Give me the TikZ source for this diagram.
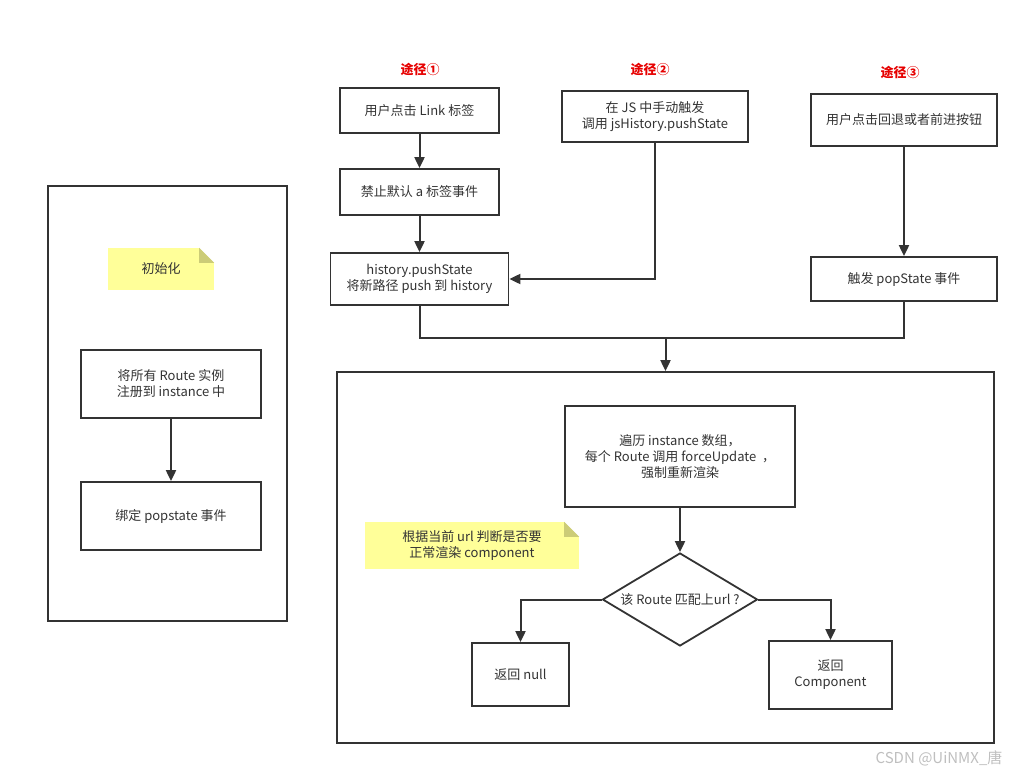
\documentclass[tikz,border=0pt]{standalone}
\usepackage{fontspec}
\setmainfont{Noto Sans CJK SC}
\usetikzlibrary{shapes.geometric, arrows.meta, positioning}
\definecolor{linegray}{RGB}{51,51,51}
\definecolor{noteyellow}{RGB}{255,255,153}
\definecolor{notefold}{RGB}{204,204,119}
\definecolor{titlered}{RGB}{230,0,0}

\begin{document}
\begin{tikzpicture}[x=1pt, y=-1pt,
    every node/.style={font=\fontsize{13}{16}\selectfont, text=linegray},
    box/.style={draw=linegray, line width=1.8pt, rectangle, align=center, inner sep=2pt},
    note/.style={fill=noteyellow, rectangle, align=center},
    title/.style={text=titlered, font=\fontsize{13}{15}\selectfont\bfseries},
    arr/.style={linegray, line width=2pt, -{Triangle[length=11pt,width=10pt]}},
    ln/.style={linegray, line width=2pt}]
                    \useasboundingbox (0,0) rectangle (1029,774);
                    % init
                    \node[box, minimum width=239, minimum height=435] (initframe) at (167.5,403.5) {};
                    \node[note, minimum width=106, minimum height=42] (initnote) at (161,269) {初始化};
                    \fill[white] (initnote.north east) -- +(-15,0) -- +(0,15) -- cycle;
                    \fill[notefold] (initnote.north east) ++(-15,0) -- +(15,15) -- +(0,15) -- cycle;
                    \node[box, minimum width=180, minimum height=68] (reg) at (171,384) {将所有 Route 实例\\注册到 instance 中};
                    \node[box, minimum width=180, minimum height=68] (bind) at (171,516) {绑定 popstate 事件};
                    \draw[arr] (reg) -- (bind);
                    % path 1
                    \node[title] (t1) at (420,69) {途径①};
                    \node[box, minimum width=159, minimum height=45] (link) at (419.5,110.5) {用户点击 Link 标签};
                    \node[box, minimum width=159, minimum height=46] (prevent) at (419.5,192) {禁止默认 a 标签事件};
                    \node[box, minimum width=178, minimum height=52] (push) at (419.5,279) {history.pushState\\将新路径 push 到 history};
                    \draw[arr] (link) -- (prevent);
                    \draw[arr] (prevent) -- (push);
                    % path 2
                    \node[title] (t2) at (650,69) {途径②};
                    \node[box, minimum width=186, minimum height=51] (manual) at (655,116.5) {在 JS 中手动触发\\调用 jsHistory.pushState};
                    \draw[arr] (manual.south) |- (push.east);
                    % path 3
                    \node[title] (t3) at (900,72) {途径③};
                    \node[box, minimum width=186, minimum height=52] (back) at (904,120) {用户点击回退或者前进按钮};
                    \node[box, minimum width=186, minimum height=44] (pop) at (904,279) {触发 popState 事件};
                    \draw[arr] (back) -- (pop);
                    % render
                    \node[box, minimum width=657, minimum height=371] (renderframe) at (665.5,557.5) {};
                    \coordinate (merge) at (665.5,338);
                    \draw[ln] (push.south) |- (merge);
                    \draw[ln] (pop.south) |- (merge);
                    \draw[arr] (merge) -- (renderframe.north);
                    \node[box, minimum width=230, minimum height=101] (loop) at (680,456.5) {遍历 instance 数组，\\每个 Route 调用 forceUpdate \ ，\\强制重新渲染};
                    \node[note, minimum width=214, minimum height=47] (rendernote) at (472,545.5) {根据当前 url 判断是否要\\正常渲染 component};
                    \fill[white] (rendernote.north east) -- +(-15,0) -- +(0,15) -- cycle;
                    \fill[notefold] (rendernote.north east) ++(-15,0) -- +(15,15) -- +(0,15) -- cycle;
                    \node[draw=linegray, line width=1.8pt, diamond, aspect=1.67, inner sep=0pt, minimum width=155, minimum height=93] (cond) at (680,599.5) {该 Route 匹配上url ?};
                    \node[box, minimum width=97, minimum height=63] (null) at (520.5,674.5) {返回 null};
                    \node[box, minimum width=123, minimum height=68] (comp) at (830.5,675) {返回\\Component};
                    \draw[arr] (loop) -- (cond);
                    \draw[arr] (cond.west) -| (null);
                    \draw[arr] (cond.east) -| (comp);
                    \node[text=gray!50, font=\fontsize{15}{17}\selectfont] (mark) at (939,758) {CSDN @UiNMX\_唐};
                \end{tikzpicture}
\end{document}
